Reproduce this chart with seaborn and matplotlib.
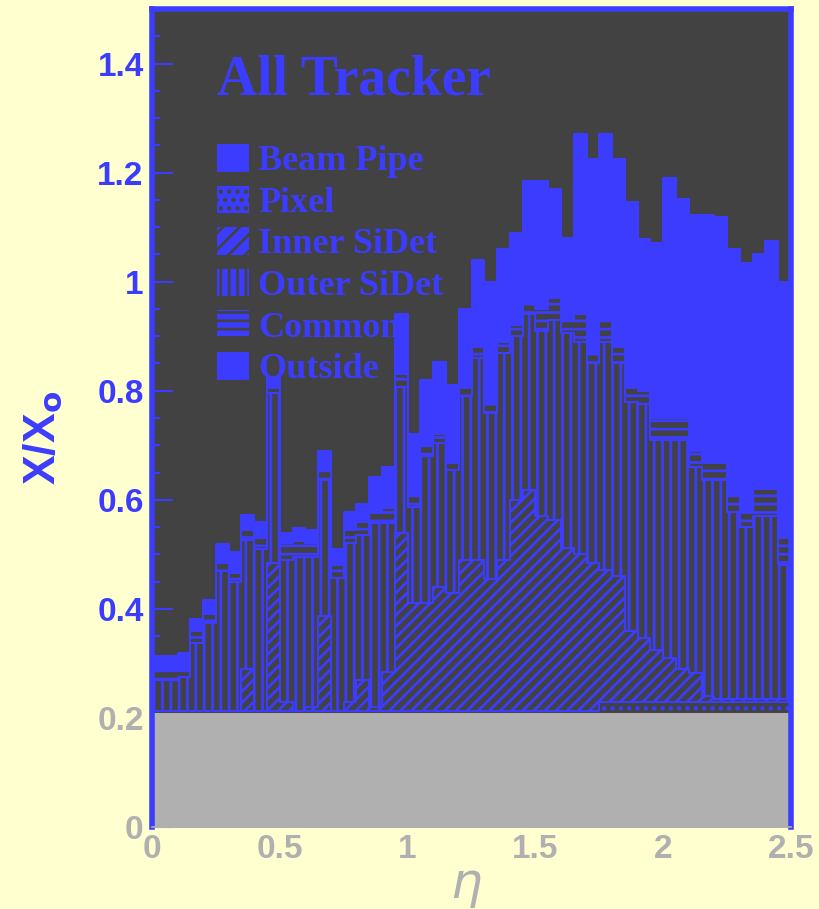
import matplotlib
matplotlib.use("Agg")
import matplotlib.pyplot as plt
import matplotlib.ticker as ticker
from matplotlib.patches import Patch
import numpy as np
import pandas as pd
import seaborn as sns

# eta binning of the material scan (50 bins of 0.05)
eta_edges = np.linspace(0.0, 2.5, 51)
eta_centers = 0.5 * (eta_edges[:-1] + eta_edges[1:])

# cumulative x/X0 at the top of each subsystem, one value per eta bin
outside_top = [0.314, 0.314, 0.319, 0.382, 0.417, 0.519, 0.505, 0.572, 0.560, 0.826,
               0.540, 0.549, 0.545, 0.690, 0.510, 0.578, 0.593, 0.642, 0.660, 0.940,
               0.720, 0.820, 0.853, 0.810, 0.950, 1.040, 1.000, 1.060, 1.090, 1.185,
               1.185, 1.170, 1.080, 1.270, 1.225, 1.270, 1.225, 1.147, 1.079, 1.070,
               1.190, 1.152, 1.123, 1.123, 1.118, 1.060, 1.035, 1.050, 1.075, 1.000]
common_top = [0.288, 0.288, 0.290, 0.360, 0.390, 0.485, 0.466, 0.545, 0.530, 0.810,
              0.520, 0.525, 0.520, 0.655, 0.480, 0.545, 0.560, 0.575, 0.585, 0.830,
              0.610, 0.700, 0.720, 0.670, 0.810, 0.880, 0.780, 0.890, 0.920, 0.960,
              0.950, 0.970, 0.930, 0.940, 0.870, 0.930, 0.880, 0.810, 0.800, 0.750,
              0.750, 0.750, 0.690, 0.670, 0.670, 0.610, 0.580, 0.620, 0.620, 0.530]
outer_top = [0.270, 0.270, 0.275, 0.338, 0.374, 0.470, 0.450, 0.527, 0.510, 0.795,
             0.490, 0.495, 0.495, 0.637, 0.457, 0.520, 0.535, 0.557, 0.557, 0.807,
             0.587, 0.680, 0.705, 0.655, 0.790, 0.860, 0.760, 0.870, 0.900, 0.940,
             0.910, 0.930, 0.905, 0.890, 0.850, 0.890, 0.850, 0.780, 0.775, 0.710,
             0.710, 0.710, 0.660, 0.637, 0.637, 0.578, 0.550, 0.570, 0.570, 0.480]
inner_top = [0.213, 0.213, 0.213, 0.213, 0.213, 0.213, 0.213, 0.290, 0.213, 0.484,
             0.230, 0.213, 0.220, 0.387, 0.213, 0.230, 0.270, 0.220, 0.285, 0.540,
             0.410, 0.410, 0.440, 0.430, 0.490, 0.490, 0.455, 0.490, 0.600, 0.618,
             0.570, 0.563, 0.512, 0.500, 0.484, 0.472, 0.460, 0.360, 0.347, 0.325,
             0.310, 0.290, 0.283, 0.240, 0.235, 0.235, 0.235, 0.235, 0.235, 0.235]
pixel_top = [0.213, 0.213, 0.213, 0.213, 0.213, 0.213, 0.213, 0.213, 0.213, 0.213,
             0.213, 0.213, 0.213, 0.213, 0.213, 0.213, 0.213, 0.213, 0.213, 0.213,
             0.213, 0.213, 0.213, 0.213, 0.213, 0.213, 0.213, 0.213, 0.213, 0.213,
             0.213, 0.213, 0.213, 0.213, 0.213, 0.230, 0.230, 0.230, 0.230, 0.230,
             0.230, 0.230, 0.230, 0.230, 0.230, 0.230, 0.230, 0.230, 0.230, 0.230]
beampipe_top = [0.207] * 50

legend_labels = ["Beam Pipe", "Pixel", "Inner SiDet", "Outer SiDet", "Common", "Outside"]

BLUE = "#3c3cff"
DARK = "#424242"
GRAY = "#b0b0b0"
PAPER = "#ffffd0"

sns.set_theme(style="ticks")
plt.rcParams["hatch.linewidth"] = 2.0
plt.rcParams["font.family"] = ["Liberation Sans", "DejaVu Sans"]

# long table: one row per (layer, eta bin)
df = pd.concat([
    pd.DataFrame({"layer": name, "eta": eta_centers, "x0": vals})
    for name, vals in [("Outside", outside_top), ("Common", common_top),
                       ("Outer SiDet", outer_top), ("Inner SiDet", inner_top),
                       ("Pixel", pixel_top), ("Beam Pipe", beampipe_top)]
])

fig = plt.figure(figsize=(8.19, 9.09), dpi=100, facecolor=PAPER)
ax = fig.add_axes([152 / 819, 1 - 827 / 909, 639 / 819, 818 / 909])
ax.set_facecolor(DARK)

# like a ROOT THStack: draw the cumulative histograms from the top layer down
styles = {
    "Outside": dict(facecolor=BLUE, edgecolor=BLUE, hatch=None),
    "Common": dict(facecolor=DARK, edgecolor=BLUE, hatch="--"),
    "Outer SiDet": dict(facecolor=DARK, edgecolor=BLUE, hatch="||"),
    "Inner SiDet": dict(facecolor=DARK, edgecolor=BLUE, hatch="///"),
    "Pixel": dict(facecolor=DARK, edgecolor=BLUE, hatch=".."),
    "Beam Pipe": dict(facecolor=GRAY, edgecolor=GRAY, hatch=None),
}
for name, kw in styles.items():
    sns.histplot(data=df[df["layer"] == name], x="eta", weights="x0",
                 binwidth=0.05, binrange=(0.0, 2.5),
                 element="step", fill=True, alpha=1, linewidth=1.5, ax=ax, **kw)

ax.set_xlim(0, 2.5)
ax.set_ylim(0, 1.5)
ax.set_axisbelow(True)

yt = np.arange(0, 1.41, 0.2)
ax.set_yticks(yt, labels=[f"{v:g}" for v in yt])
ax.yaxis.set_minor_locator(ticker.MultipleLocator(0.05))
xt = np.arange(0, 2.51, 0.5)
ax.set_xticks(xt, labels=[f"{v:g}" for v in xt])

ax.tick_params(axis="y", which="major", direction="in", length=15, width=1.5,
               color=BLUE, labelcolor=BLUE, labelsize=24, pad=6)
ax.tick_params(axis="y", which="minor", direction="in", length=6, width=1.5, color=BLUE)
ax.tick_params(axis="x", length=0, labelcolor=GRAY, labelsize=24, pad=5)
for lbl in ax.get_yticklabels() + ax.get_xticklabels():
    lbl.set_fontweight("bold")
for lbl, v in zip(ax.get_yticklabels(), yt):
    if v < 0.3:
        lbl.set_color(GRAY)

for side in ["left", "top", "right"]:
    ax.spines[side].set_color(BLUE)
    ax.spines[side].set_linewidth(4)
ax.spines["bottom"].set_color(GRAY)

ax.set_ylabel(r"X/X$_\mathbf{o}$", fontsize=32, fontweight="bold", color=BLUE)
ax.yaxis.set_label_coords(-0.137, 0.476)
ax.set_xlabel(r"$\eta$", fontsize=36, color=GRAY)
ax.xaxis.set_label_coords(0.491, -0.045)

ax.text(0.101, 0.896, "All Tracker", transform=ax.transAxes, fontsize=40,
        fontweight="bold", family="Liberation Serif", color=BLUE, va="baseline")

handles = [
    Patch(facecolor=BLUE, edgecolor=BLUE, linewidth=0),
    Patch(facecolor=BLUE, edgecolor=DARK, hatch="..", linewidth=0),
    Patch(facecolor=BLUE, edgecolor=DARK, hatch="//", linewidth=0),
    Patch(facecolor=BLUE, edgecolor=DARK, hatch="||", linewidth=0),
    Patch(facecolor=BLUE, edgecolor=DARK, hatch="--", linewidth=0),
    Patch(facecolor=BLUE, edgecolor=BLUE, linewidth=0),
]
leg = ax.legend(handles, legend_labels, loc="upper left", bbox_to_anchor=(0.101, 0.835),
                frameon=False, borderpad=0, borderaxespad=0, labelspacing=0.2,
                handlelength=0.9, handleheight=0.8, handletextpad=0.25,
                prop={"family": "Liberation Serif", "weight": "bold", "size": 26})
for t in leg.get_texts():
    t.set_color(BLUE)

fig.savefig("out.png", dpi=100, facecolor=PAPER)
